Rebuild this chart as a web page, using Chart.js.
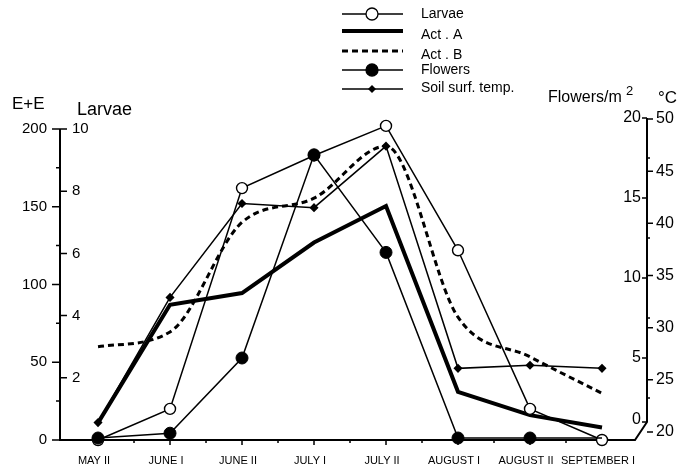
<!DOCTYPE html>
<html>
<head>
<meta charset="utf-8">
<script src="https://cdn.jsdelivr.net/npm/chart.js@4.4.0/dist/chart.umd.min.js"></script>
<style>
  html, body { margin: 0; padding: 0; background: #fff; }
  #wrap { width: 694px; height: 470px; }
</style>
</head>
<body>
<div id="wrap"><canvas id="phenology" width="694" height="470"></canvas></div>
<script>
const periods = ['MAY II', 'JUNE I', 'JUNE II', 'JULY I', 'JULY II', 'AUGUST I', 'AUGUST II', 'SEPTEMBER I'];
const larvae = [0, 1.0, 8.1, 9.15, 10.1, 6.1, 1.0, 0];
const actA = [11, 87, 94.5, 127, 150.5, 31, 16, 8];
const actB = [60, 69.5, 140, 155.5, 189, 79, 53.5, 30];
const flowers = [0, 0.3, 5.0, 17.7, 11.6, 0, 0, 0];
const soilTemp = [20.9, 32.9, 41.9, 41.5, 47.4, 26.1, 26.4, 26.1];

const eeTicks = [0, 50, 100, 150, 200];
const eeMinor = [25, 75, 125, 175];
const larvaeTicks = [2, 4, 6, 8, 10];
const flowerTicks = [0, 5, 10, 15, 20];
const flowerMinor = [2.5, 7.5, 12.5, 17.5];
const tempTicks = [20, 25, 30, 35, 40, 45, 50];

const FONT = '"Liberation Sans", Arial, Helvetica, sans-serif';
const pts = arr => arr.map((y, i) => ({ x: i, y }));

// hand-drawn style axes: E+E / Larvae on the left, Flowers / °C on the right
const axesPlugin = {
  id: 'axesPlugin',
  beforeDatasetsDraw(chart) {
    const { ctx, chartArea: a } = chart;
    const { x, yE, yL, yF, yT } = chart.scales;
    const base = a.bottom;
    const rx = a.right;
    ctx.save();
    ctx.strokeStyle = '#000';
    ctx.fillStyle = '#000';
    ctx.lineCap = 'butt';

    // axis lines
    ctx.lineWidth = 2;
    ctx.beginPath();
    ctx.moveTo(a.left, yE.getPixelForValue(200));
    ctx.lineTo(a.left, base);
    ctx.lineTo(rx - 12, base);
    ctx.lineTo(rx, base - 18);
    ctx.lineTo(rx, yF.getPixelForValue(20));
    ctx.stroke();

    ctx.lineWidth = 1.5;
    // left: E+E ticks outwards, larvae ticks inwards
    ctx.beginPath();
    eeTicks.forEach(v => { const p = yE.getPixelForValue(v); ctx.moveTo(a.left - 8, p); ctx.lineTo(a.left, p); });
    eeMinor.forEach(v => { const p = yE.getPixelForValue(v); ctx.moveTo(a.left - 4, p); ctx.lineTo(a.left, p); });
    larvaeTicks.forEach(v => { const p = yL.getPixelForValue(v); ctx.moveTo(a.left, p); ctx.lineTo(a.left + 7, p); });
    // right: flower ticks inwards, °C ticks outwards
    flowerTicks.forEach(v => { const p = Math.min(yF.getPixelForValue(v), base - 18); ctx.moveTo(rx - 5, p); ctx.lineTo(rx, p); });
    flowerMinor.forEach(v => { const p = yF.getPixelForValue(v); ctx.moveTo(rx, p); ctx.lineTo(rx + 3, p); });
    tempTicks.forEach(v => { const p = yT.getPixelForValue(v); ctx.moveTo(rx, p); ctx.lineTo(rx + 6, p); });
    // bottom: major ticks at periods, minor halfway
    periods.forEach((_, i) => {
      const p = x.getPixelForValue(i);
      ctx.moveTo(p, base); ctx.lineTo(p, base + 5);
      if (i < periods.length - 1) {
        const m = x.getPixelForValue(i + 0.5);
        ctx.moveTo(m, base); ctx.lineTo(m, base + 3);
      }
    });
    ctx.stroke();

    // tick labels
    ctx.textBaseline = 'middle';
    ctx.font = '15px ' + FONT;
    ctx.textAlign = 'right';
    eeTicks.forEach(v => ctx.fillText(String(v), a.left - 13, yE.getPixelForValue(v)));
    ctx.textAlign = 'left';
    larvaeTicks.forEach(v => ctx.fillText(String(v), a.left + 12, yL.getPixelForValue(v)));
    ctx.font = '16px ' + FONT;
    ctx.textAlign = 'right';
    flowerTicks.forEach(v => ctx.fillText(String(v), rx - 6, Math.min(yF.getPixelForValue(v), base - 20)));
    ctx.textAlign = 'left';
    tempTicks.forEach(v => ctx.fillText(String(v), rx + 9, yT.getPixelForValue(v)));

    ctx.font = '11px ' + FONT;
    ctx.textAlign = 'center';
    periods.forEach((lab, i) => ctx.fillText(lab, x.getPixelForValue(i) - 4, base + 21));

    // axis titles
    ctx.textAlign = 'left';
    ctx.font = '17px ' + FONT;
    ctx.fillText('E+E', 12, 104);
    ctx.font = '18px ' + FONT;
    ctx.fillText('Larvae', 77, 110);
    ctx.font = '16px ' + FONT;
    ctx.fillText('Flowers/m', 548, 98);
    ctx.font = '13px ' + FONT;
    ctx.fillText('2', 626, 91);
    ctx.font = '17px ' + FONT;
    ctx.fillText('°C', 658, 98);
    ctx.restore();
  },
  afterDraw(chart) {
    // legend block above the plot
    const { ctx } = chart;
    const rows = [
      { ds: 0, y: 14, ty: 14 },
      { ds: 1, y: 31, ty: 35 },
      { ds: 2, y: 51, ty: 55 },
      { ds: 3, y: 70, ty: 70 },
      { ds: 4, y: 89, ty: 88 }
    ];
    ctx.save();
    rows.forEach(r => {
      const d = chart.data.datasets[r.ds];
      ctx.strokeStyle = '#000';
      ctx.lineWidth = d.borderWidth;
      ctx.setLineDash(d.borderDash || []);
      ctx.beginPath();
      ctx.moveTo(342, r.y);
      ctx.lineTo(403, r.y);
      ctx.stroke();
      ctx.setLineDash([]);
      if (d.pointStyle === 'circle') {
        ctx.beginPath();
        ctx.arc(372, r.y, 6, 0, Math.PI * 2);
        ctx.fillStyle = d.pointBackgroundColor;
        ctx.fill();
        ctx.lineWidth = 1.3;
        ctx.stroke();
      } else if (d.pointStyle === 'rectRot') {
        ctx.beginPath();
        ctx.moveTo(372, r.y - 4); ctx.lineTo(376, r.y); ctx.lineTo(372, r.y + 4); ctx.lineTo(368, r.y);
        ctx.closePath();
        ctx.fillStyle = '#000';
        ctx.fill();
      }
      ctx.fillStyle = '#000';
      ctx.font = '14px ' + FONT;
      ctx.textAlign = 'left';
      ctx.textBaseline = 'middle';
      ctx.fillText(d.label, 421, r.ty);
    });
    ctx.restore();
  }
};

new Chart(document.getElementById('phenology'), {
  type: 'line',
  data: {
    datasets: [
      {
        label: 'Larvae', data: pts(larvae), yAxisID: 'yL', order: 1,
        borderColor: '#000', borderWidth: 1.5, pointStyle: 'circle',
        pointRadius: 5.5, pointBorderWidth: 1.4,
        pointBackgroundColor: '#fff', pointBorderColor: '#000'
      },
      {
        label: 'Act . A', data: pts(actA), yAxisID: 'yE', order: 3,
        borderColor: '#000', borderWidth: 4, pointRadius: 0
      },
      {
        label: 'Act . B', data: pts(actB), yAxisID: 'yE', order: 4,
        borderColor: '#000', borderWidth: 3, borderDash: [6, 4],
        pointRadius: 0, cubicInterpolationMode: 'monotone'
      },
      {
        label: 'Flowers', data: pts(flowers), yAxisID: 'yF', order: 0,
        borderColor: '#000', borderWidth: 1.5, pointStyle: 'circle',
        pointRadius: [6, 6, 6, 6, 6, 6, 6, 0], pointBorderWidth: 1,
        pointBackgroundColor: '#000', pointBorderColor: '#000'
      },
      {
        label: 'Soil surf. temp.', data: pts(soilTemp), yAxisID: 'yT', order: 2,
        borderColor: '#000', borderWidth: 1.5, pointStyle: 'rectRot',
        pointRadius: 3.5, pointBackgroundColor: '#000', pointBorderColor: '#000'
      }
    ]
  },
  options: {
    responsive: false,
    animation: false,
    clip: false,
    layout: { padding: { left: 60, right: 47, top: 118, bottom: 30 } },
    plugins: { legend: { display: false }, tooltip: { enabled: false } },
    elements: { line: { tension: 0 } },
    scales: {
      x: { type: 'linear', min: -0.528, max: 7.625, display: false },
      yE: { type: 'linear', min: 0, max: 207.07, display: false },
      yL: { type: 'linear', min: 0, max: 10.354, display: false },
      yF: { type: 'linear', min: -0.125, max: 20, display: false },
      yT: { type: 'linear', min: 19.233, max: 50.096, display: false }
    }
  },
  plugins: [axesPlugin]
});
</script>
</body>
</html>
